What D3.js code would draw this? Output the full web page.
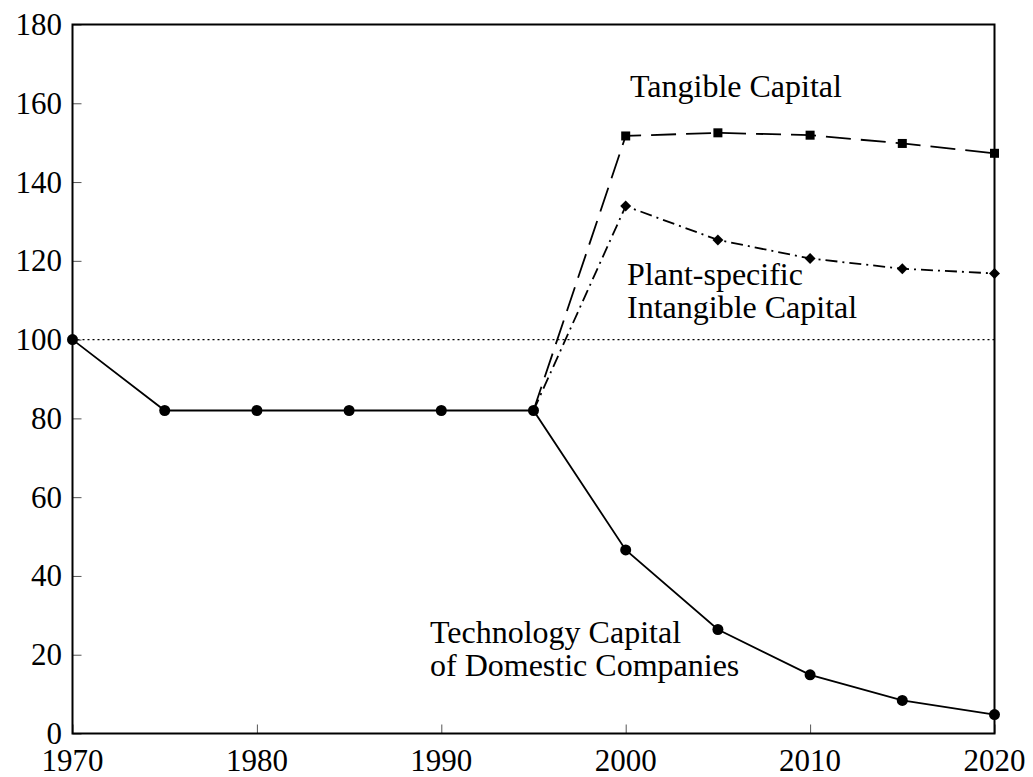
<!DOCTYPE html>
<html><head><meta charset="utf-8">
<script src="https://cdn.jsdelivr.net/npm/d3@7"></script>
<style>body{margin:0;background:#fff}</style>
</head><body>
<svg id="c" width="1033" height="777"></svg>
<script>
const years = [1970,1975,1980,1985,1990,1995,2000,2005,2010,2015,2020];
const techCapital = [100,82,82,82,82,82,46.6,26.4,14.9,8.4,4.8];
const tangibleYears = [1995,2000,2005,2010,2015,2020];
const tangible = [82,151.7,152.5,151.9,149.8,147.3];
const plantYears = [1995,2000,2005,2010,2015,2020];
const plant = [82,133.9,125.3,120.6,118.0,116.8];
const xTicks = [1970,1980,1990,2000,2010,2020];
const yTicks = [0,20,40,60,80,100,120,140,160,180];
const refLevel = 100;

const svg = d3.select("#c");
const L=72.5,R=994.5,T=24.5,B=733.5;
const x = d3.scaleLinear().domain([1970,2020]).range([L,R]);
const y = d3.scaleLinear().domain([0,180]).range([B,T]);
const font = "'Liberation Serif','Times New Roman',serif";

// reference line
svg.append("line").attr("x1",x(1970)).attr("x2",x(2020)).attr("y1",y(refLevel)).attr("y2",y(refLevel))
  .attr("stroke","#000").attr("stroke-width",1.3).attr("stroke-dasharray","2,3");

// axes (ticks inward)
const xa = svg.append("g").attr("transform",`translate(0,${B})`)
  .call(d3.axisTop(x).tickValues(xTicks).tickSize(9).tickFormat(""));
const ya = svg.append("g").attr("transform",`translate(${L},0)`)
  .call(d3.axisRight(y).tickValues(yTicks).tickSize(9).tickFormat(""));
[xa,ya].forEach(g=>{g.select(".domain").remove();g.selectAll("line").attr("stroke","#555").attr("stroke-width",1);});
svg.append("rect").attr("x",L).attr("y",T).attr("width",R-L).attr("height",B-T)
  .attr("fill","none").attr("stroke","#000").attr("stroke-width",2);

// tick labels
svg.selectAll(".yl").data(yTicks).join("text").attr("x",62).attr("y",d=>y(d)).attr("dy","0.34em")
  .attr("text-anchor","end").attr("font-family",font).attr("font-size",31).text(d=>d);
svg.selectAll(".xl").data(xTicks).join("text").attr("x",d=>x(d)).attr("y",771)
  .attr("text-anchor","middle").attr("font-family",font).attr("font-size",31).text(d=>d);

const line = d3.line().x(d=>x(d[0])).y(d=>y(d[1]));
const tangData = tangibleYears.map((d,i)=>[d,tangible[i]]);
const plantData = plantYears.map((d,i)=>[d,plant[i]]);
const techData = years.map((d,i)=>[d,techCapital[i]]);

svg.append("path").datum(tangData).attr("d",line).attr("fill","none").attr("stroke","#000")
  .attr("stroke-width",1.8).attr("stroke-dasharray","25,10");
svg.append("path").datum(plantData).attr("d",line).attr("fill","none").attr("stroke","#000")
  .attr("stroke-width",1.8).attr("stroke-dasharray","12,5,2,5");
svg.append("path").datum(techData).attr("d",line).attr("fill","none").attr("stroke","#000")
  .attr("stroke-width",1.8);

svg.selectAll(".sq").data(tangData.slice(1)).join("rect")
  .attr("x",d=>x(d[0])-4.5).attr("y",d=>y(d[1])-4.5).attr("width",9).attr("height",9).attr("fill","#000");
svg.selectAll(".dm").data(plantData.slice(1)).join("path")
  .attr("d",d3.symbol(d3.symbolSquare,60))
  .attr("transform",d=>`translate(${x(d[0])},${y(d[1])}) rotate(45)`).attr("fill","#000");
svg.selectAll(".ci").data(techData).join("circle")
  .attr("cx",d=>x(d[0])).attr("cy",d=>y(d[1])).attr("r",5.5).attr("fill","#000");

// labels
const labels = [
  {t:"Tangible Capital",x:630,y:97},
  {t:"Plant-specific",x:627,y:285},
  {t:"Intangible Capital",x:627,y:318},
  {t:"Technology Capital",x:430,y:643},
  {t:"of Domestic Companies",x:430,y:676}
];
svg.selectAll(".lb").data(labels).join("text").attr("x",d=>d.x).attr("y",d=>d.y)
  .attr("font-family",font).attr("font-size",32).text(d=>d.t);
</script>
</body></html>
